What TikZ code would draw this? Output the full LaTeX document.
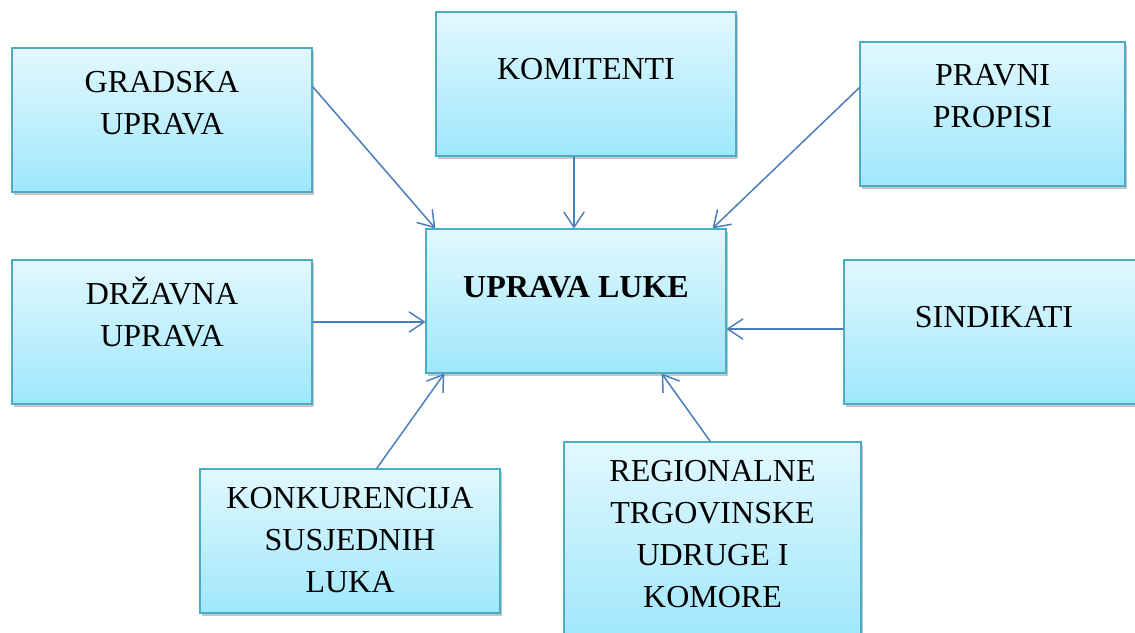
\documentclass[tikz,border=0pt]{standalone}
\usepackage{fontspec}
\setmainfont{Liberation Serif}
\usetikzlibrary{arrows.meta,shadows}
\definecolor{bordc}{HTML}{4BACC6}
\definecolor{topc}{HTML}{E2F8FE}
\definecolor{botc}{HTML}{9FE7FC}
\definecolor{arrc}{HTML}{4A7EBB}
\tikzset{
  box/.style={draw=bordc, line width=2pt, top color=topc, bottom color=botc,
    minimum width=300pt, minimum height=144pt, inner sep=0pt,
    drop shadow={shadow xshift=2pt, shadow yshift=-3pt, fill=black!45, opacity=0.5}},
  lbl/.style={font=\fontsize{32}{42}\selectfont, align=center, anchor=base, inner sep=0pt},
  conn/.style={draw=arrc, line width=1.5pt, line cap=round,
    -{Straight Barb[length=15pt,width=20pt,line width=1.5pt,round]}}
}
\begin{document}
\begin{tikzpicture}[x=1pt,y=-1pt]
\useasboundingbox (0,0) rectangle (1135,632);
\clip (0,0) rectangle (1135,632);
\fill[white] (0,0) rectangle (1135,632);
% boxes
\node[box] (g) at (162,120) {};
\node[box] (k) at (586,84) {};
\node[box, minimum width=265pt] (p) at (992.5,113.5) {};
\node[box] (d) at (162,332) {};
\node[box] (u) at (576,301) {};
\node[box] (s) at (994,331.5) {};
\node[box] (kk) at (350,541) {};
\node[box, minimum width=297pt, minimum height=200pt] (r) at (712.5,542) {};
% labels (anchor = baseline of last line)
\node[lbl] (gt) at ([yshift=-87pt]g.north) {GRADSKA\\UPRAVA};
\node[lbl] (kt) at ([yshift=-68pt]k.north) {KOMITENTI};
\node[lbl] (pt) at ([yshift=-87pt]p.north) {PRAVNI\\PROPISI};
\node[lbl] (dt) at ([yshift=-87pt]d.north) {DRŽAVNA\\UPRAVA};
\node[lbl] (ut) at ([yshift=-69pt]u.north) {\bfseries UPRAVA LUKE};
\node[lbl] (st) at ([yshift=-69pt]s.north) {SINDIKATI};
\node[lbl] (kkt) at ([yshift=-124pt]kk.north) {KONKURENCIJA\\SUSJEDNIH\\LUKA};
\node[lbl] (rt) at ([yshift=-166pt]r.north) {REGIONALNE\\TRGOVINSKE\\UDRUGE I\\KOMORE};
% connectors
\draw[conn] ([yshift=33pt]g.east) -- ([xshift=10pt]u.north west);
\draw[conn] ([xshift=-12pt]k.south) -- ([xshift=-2pt]u.north);
\draw[conn] ([yshift=25.5pt]p.west) -- ([xshift=-14pt]u.north east);
\draw[conn] ([yshift=10pt]d.east) -- ([yshift=-21pt]u.west);
\draw[conn] ([yshift=2.5pt]s.west) -- ([yshift=-28pt]u.east);
\draw[conn] ([xshift=27pt]kk.north) -- ([xshift=19pt]u.south west);
\draw[conn] ([xshift=-2.5pt]r.north) -- ([xshift=86pt]u.south);
\end{tikzpicture}
\end{document}
